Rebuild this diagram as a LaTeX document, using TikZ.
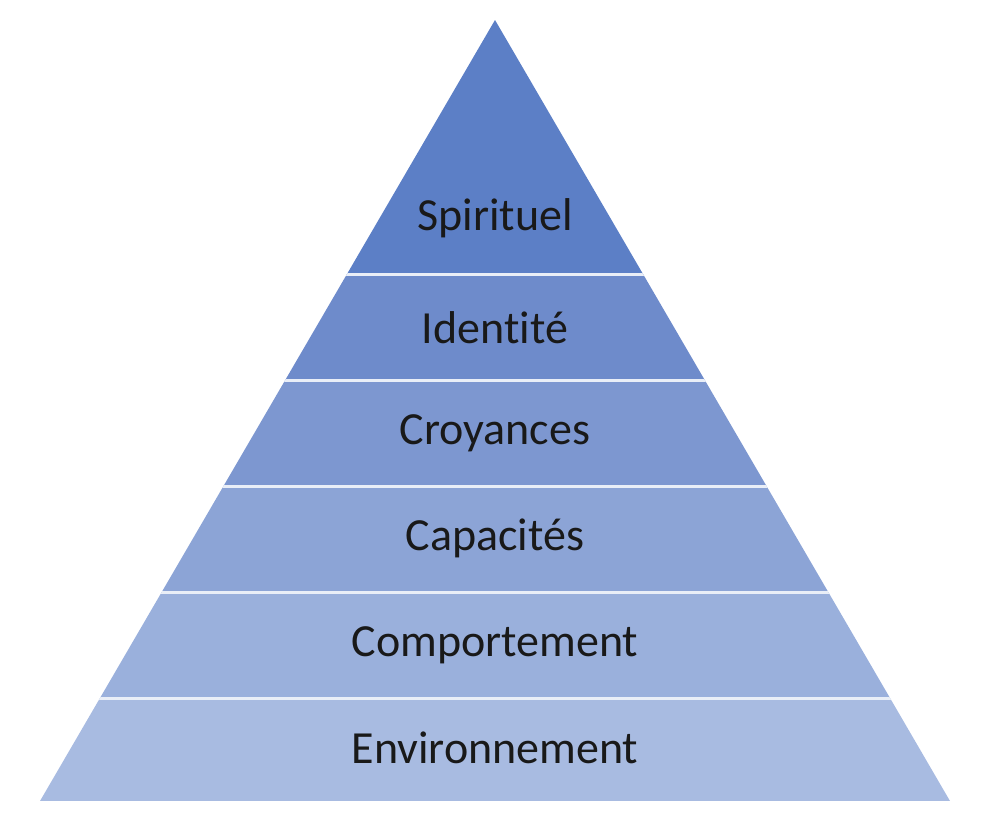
\documentclass[tikz,border=0pt]{standalone}
\usepackage{fontspec}
\setmainfont[Ligatures={NoCommon}]{Carlito}
\usepackage{tikz}
\definecolor{spirit}{RGB}{92,127,198}
\definecolor{ident}{RGB}{110,139,203}
\definecolor{croy}{RGB}{125,151,208}
\definecolor{capa}{RGB}{140,164,214}
\definecolor{compo}{RGB}{154,176,220}
\definecolor{envir}{RGB}{168,187,225}
\tikzset{
  label/.style={font=\fontsize{46}{50}\selectfont, text=black!90},
  sep/.style={white!85!ident, line width=3pt}
}

\begin{document}
\begin{tikzpicture}[x=1pt, y=-1pt]
	\useasboundingbox (0, 0) rectangle (992, 820);
	\coordinate (apex) at (495, 20);
	\coordinate (baseL) at (40, 801);
	\coordinate (baseR) at (950, 801);
	\begin{scope}
		\clip (apex) -- (baseL) -- (baseR) -- cycle;
		\fill[spirit] (0, 0) rectangle (992, 274);
		\fill[ident] (0, 274) rectangle (992, 380);
		\fill[croy] (0, 380) rectangle (992, 486);
		\fill[capa] (0, 486) rectangle (992, 592);
		\fill[compo] (0, 592) rectangle (992, 698);
		\fill[envir] (0, 698) rectangle (992, 801);
		\draw[sep] (0, 274) -- (992, 274);
		\draw[sep] (0, 380) -- (992, 380);
		\draw[sep] (0, 486) -- (992, 486);
		\draw[sep] (0, 592) -- (992, 592);
		\draw[sep] (0, 698) -- (992, 698);
	\end{scope}
	\node[label] (spirituel) at (495, 218) {Spirituel};
	\node[label] (identite) at (495, 328) {Identité};
	\node[label] (croyances) at (495, 433) {Croyances};
	\node[label] (capacites) at (495, 538) {Capacités};
	\node[label] (comportement) at (495, 645) {Comportement};
	\node[label] (environnement) at (495, 748) {Environnement};
\end{tikzpicture}
\end{document}
